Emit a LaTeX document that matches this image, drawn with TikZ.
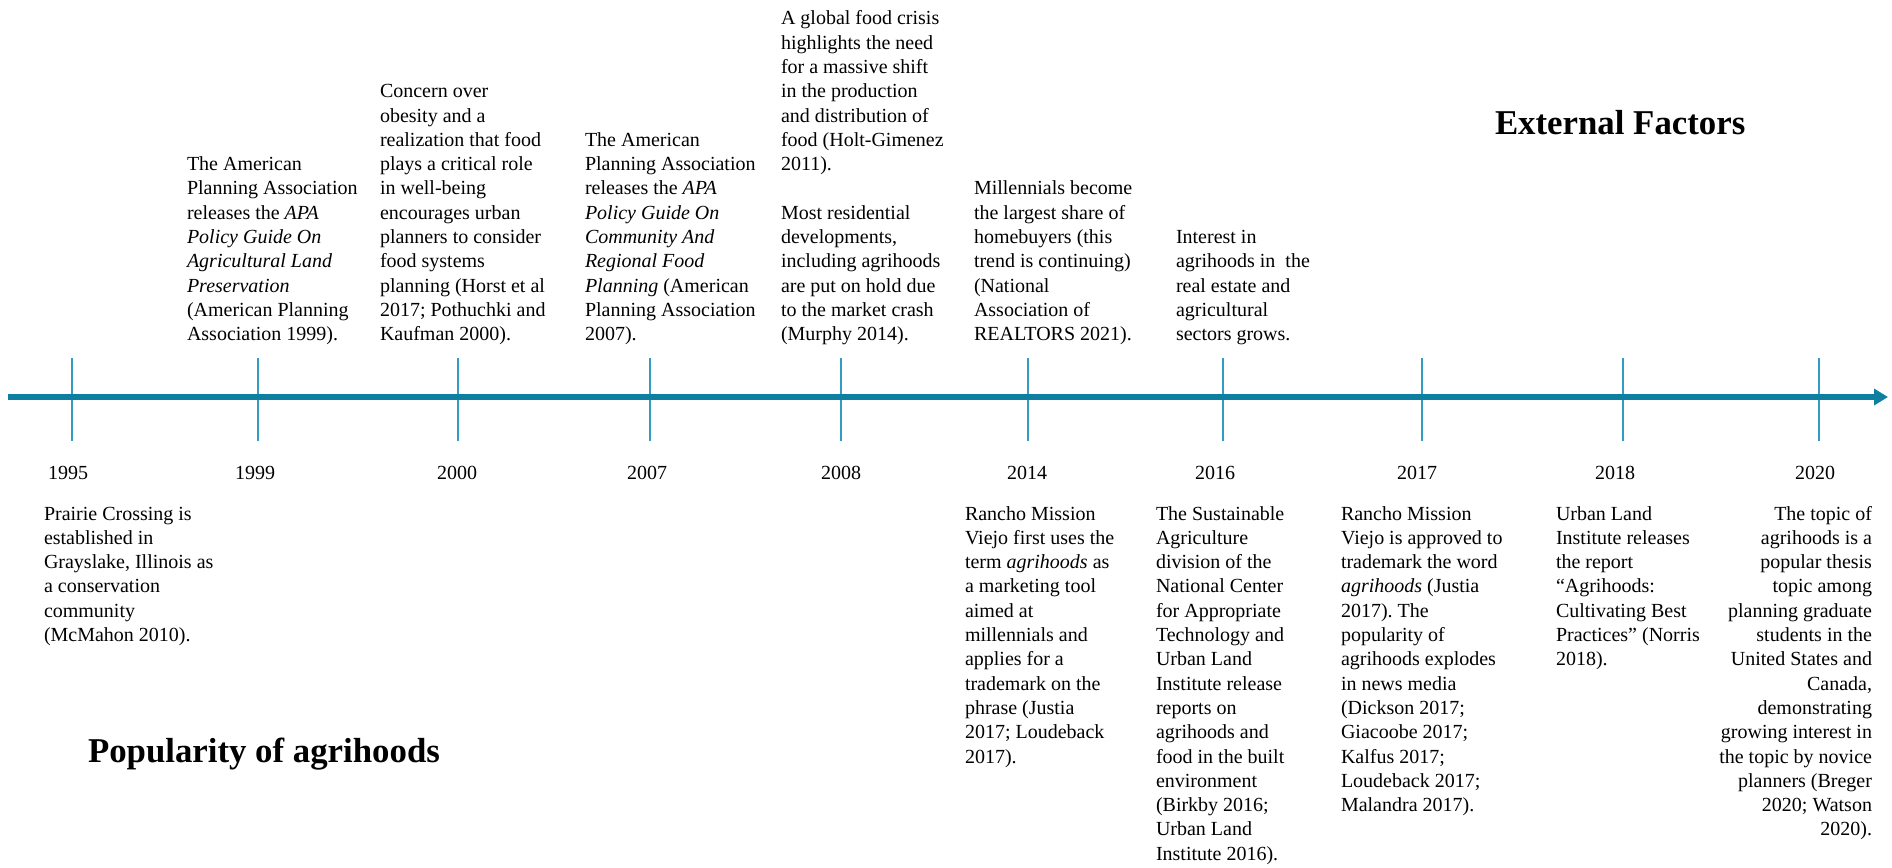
\documentclass[tikz,border=0pt]{standalone}
\usepackage{fontspec}
\setmainfont{Liberation Serif}
\usetikzlibrary{arrows.meta}
\definecolor{axisblue}{RGB}{14,127,161}
\definecolor{tickblue}{RGB}{52,156,190}
\frenchspacing
\begin{document}
\begin{tikzpicture}[x=0.5pt,y=-0.5pt,
  every node/.style={inner sep=0pt,outer sep=0pt},
  toptxt/.style={anchor=south west,align=left,font=\fontsize{10}{12.15}\selectfont},
  bottxt/.style={anchor=north west,align=left,font=\fontsize{10}{12.15}\selectfont},
  yearlbl/.style={anchor=base,font=\fontsize{10}{12.15}\selectfont},
  heading/.style={anchor=base west,font=\fontsize{17.4}{20}\selectfont\bfseries},
  tickline/.style={draw=tickblue,line width=1pt},
  axisline/.style={draw=axisblue,line width=3pt,-{Triangle[length=7pt,width=8pt]}}]
\useasboundingbox (0,0) rectangle (1892,868);

% ticks and year labels
\foreach \yr/\x/\lx in {1995/72/68,1999/258/255,2000/458/457,2007/650/647,2008/841/841,2014/1028/1027,2016/1223/1215,2017/1422/1417,2018/1623/1615,2020/1819/1815}{
  \coordinate (t\yr-a) at (\x,358);
  \coordinate (t\yr-b) at (\x,441);
  \draw[tickline] (t\yr-a) -- (t\yr-b);
  \node[yearlbl] (y\yr) at (\lx,479) {\yr};
}

% axis
\coordinate (axL) at (8,397);
\coordinate (axR) at (1888,397);
\draw[axisline] (axL) -- (axR);

% external factors (above)
\node[toptxt] (e1999) at (187,348) {The American\\Planning Association\\releases the \textit{APA}\\\textit{Policy Guide On}\\\textit{Agricultural Land}\\\textit{Preservation}\\(American Planning\\Association 1999).\strut};
\node[toptxt] (e2000) at (380,348) {Concern over\\obesity and a\\realization that food\\plays a critical role\\in well-being\\encourages urban\\planners to consider\\food systems\\planning (Horst et al\\2017; Pothuchki and\\Kaufman 2000).\strut};
\node[toptxt] (e2007) at (585,348) {The American\\Planning Association\\releases the \textit{APA}\\\textit{Policy Guide On}\\\textit{Community And}\\\textit{Regional Food}\\\textit{Planning} (American\\Planning Association\\2007).\strut};
\node[toptxt] (e2008) at (781,348) {A global food crisis\\highlights the need\\for a massive shift\\in the production\\and distribution of\\food (Holt-Gimenez\\2011).\\\strut\\Most residential\\developments,\\including agrihoods\\are put on hold due\\to the market crash\\(Murphy 2014).\strut};
\node[toptxt] (e2014) at (974,348) {Millennials become\\the largest share of\\homebuyers (this\\trend is continuing)\\(National\\Association of\\REALTORS 2021).\strut};
\node[toptxt] (e2016) at (1176,348) {Interest in\\agrihoods in\ \ the\\real estate and\\agricultural\\sectors grows.\strut};

% popularity of agrihoods (below)
\node[bottxt] (b1995) at (44,503) {\strut Prairie Crossing is\\established in\\Grayslake, Illinois as\\a conservation\\community\\(McMahon 2010).};
\node[bottxt] (b2014) at (965,503) {\strut Rancho Mission\\Viejo first uses the\\term \textit{agrihoods} as\\a marketing tool\\aimed at\\millennials and\\applies for a\\trademark on the\\phrase (Justia\\2017; Loudeback\\2017).};
\node[bottxt] (b2016) at (1156,503) {\strut The Sustainable\\Agriculture\\division of the\\National Center\\for Appropriate\\Technology and\\Urban Land\\Institute release\\reports on\\agrihoods and\\food in the built\\environment\\(Birkby 2016;\\Urban Land\\Institute 2016).};
\node[bottxt] (b2017) at (1341,503) {\strut Rancho Mission\\Viejo is approved to\\trademark the word\\\textit{agrihoods} (Justia\\2017). The\\popularity of\\agrihoods explodes\\in news media\\(Dickson 2017;\\Giacoobe 2017;\\Kalfus 2017;\\Loudeback 2017;\\Malandra 2017).};
\node[bottxt] (b2018) at (1556,503) {\strut Urban Land\\Institute releases\\the report\\“Agrihoods:\\Cultivating Best\\Practices” (Norris\\2018).};
\node[bottxt,anchor=north east,align=right] (b2020) at (1872,503) {\strut The topic of\\agrihoods is a\\popular thesis\\topic among\\planning graduate\\students in the\\United States and\\Canada,\\demonstrating\\growing interest in\\the topic by novice\\planners (Breger\\2020; Watson\\2020).};

% headings
\node[heading] (ext) at (1495,134) {External Factors};
\node[heading] (pop) at (88,762) {Popularity of agrihoods};
\end{tikzpicture}
\end{document}
